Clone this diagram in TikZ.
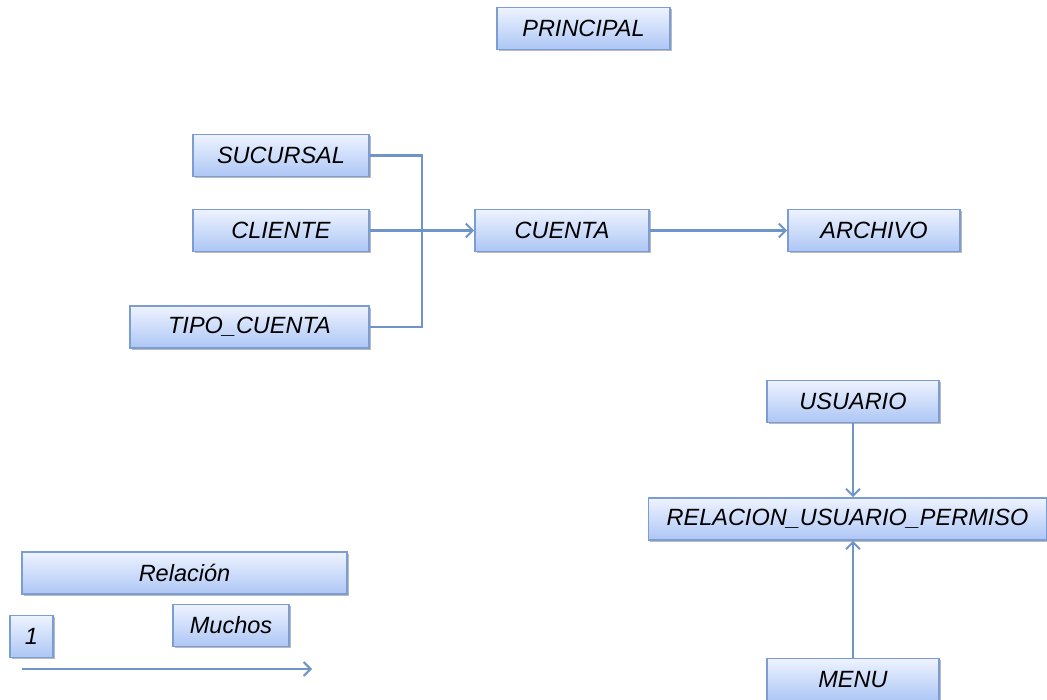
\documentclass[tikz,border=0pt]{standalone}
\usepackage{fontspec}
\setmainfont{Liberation Sans}
\usetikzlibrary{arrows.meta,shadows}
\definecolor{bordeAzul}{HTML}{7B9DD3}
\definecolor{lineaAzul}{HTML}{6F94C8}
\definecolor{arribaAzul}{HTML}{EEF3FF}
\definecolor{abajoAzul}{HTML}{ADC6F5}
\begin{document}
\begin{tikzpicture}[x=1pt,y=-1pt,
    tabla/.style={draw=bordeAzul, line width=1.6pt, top color=arribaAzul, bottom color=abajoAzul,
      inner sep=0pt, minimum height=42pt, font=\fontsize{23.5}{26}\selectfont\itshape,
      drop shadow={shadow xshift=1.8pt, shadow yshift=-1.8pt, fill=black!45, opacity=.6}},
    rel/.style={draw=lineaAzul, line width=2.2pt},
    flecha/.style={rel, -{Straight Barb[length=7pt,width=14pt,line width=2pt]}}]
  \useasboundingbox (0,0) rectangle (1047,700);
  % tablas
  \node[tabla, minimum width=173pt] (principal) at (583.5,28.5) {PRINCIPAL};
  \node[tabla, minimum width=176pt] (sucursal) at (281,155.5) {SUCURSAL};
  \node[tabla, minimum width=176pt] (cliente) at (281,230.5) {CLIENTE};
  \node[tabla, minimum width=239pt] (tipocuenta) at (249.5,327) {TIPO\_CUENTA};
  \node[tabla, minimum width=174pt] (cuenta) at (562,230.5) {CUENTA};
  \node[tabla, minimum width=172pt] (archivo) at (874,230.5) {ARCHIVO};
  \node[tabla, minimum width=172pt] (usuario) at (853,401.5) {USUARIO};
  \node[tabla, minimum width=398pt] (relusuario) at (847.5,519) {RELACION\_USUARIO\_PERMISO};
  \node[tabla, minimum width=172pt] (menu) at (853,679.5) {MENU};
  % leyenda
  \node[tabla, minimum width=325pt] (relacion) at (184.5,573) {Relación};
  \node[tabla, minimum width=116pt] (muchos) at (231,625.5) {Muchos};
  \node[tabla, minimum width=43pt] (uno) at (31.5,636.5) {1};
  \coordinate (leyini) at (22,669);
  \coordinate (leyfin) at (312,669);
  \coordinate (union) at (422,230.5);
  % relaciones
  \draw[rel] (sucursal.east) -| (union) |- (tipocuenta.east);
  \draw[flecha] (cliente.east) -- (cuenta.west);
  \draw[flecha] (cuenta.east) -- (archivo.west);
  \draw[flecha] (usuario.south) -- (usuario.south |- relusuario.north);
  \draw[flecha] (menu.north) -- (menu.north |- relusuario.south);
  \draw[flecha] (leyini) -- (leyfin);
\end{tikzpicture}
\end{document}
